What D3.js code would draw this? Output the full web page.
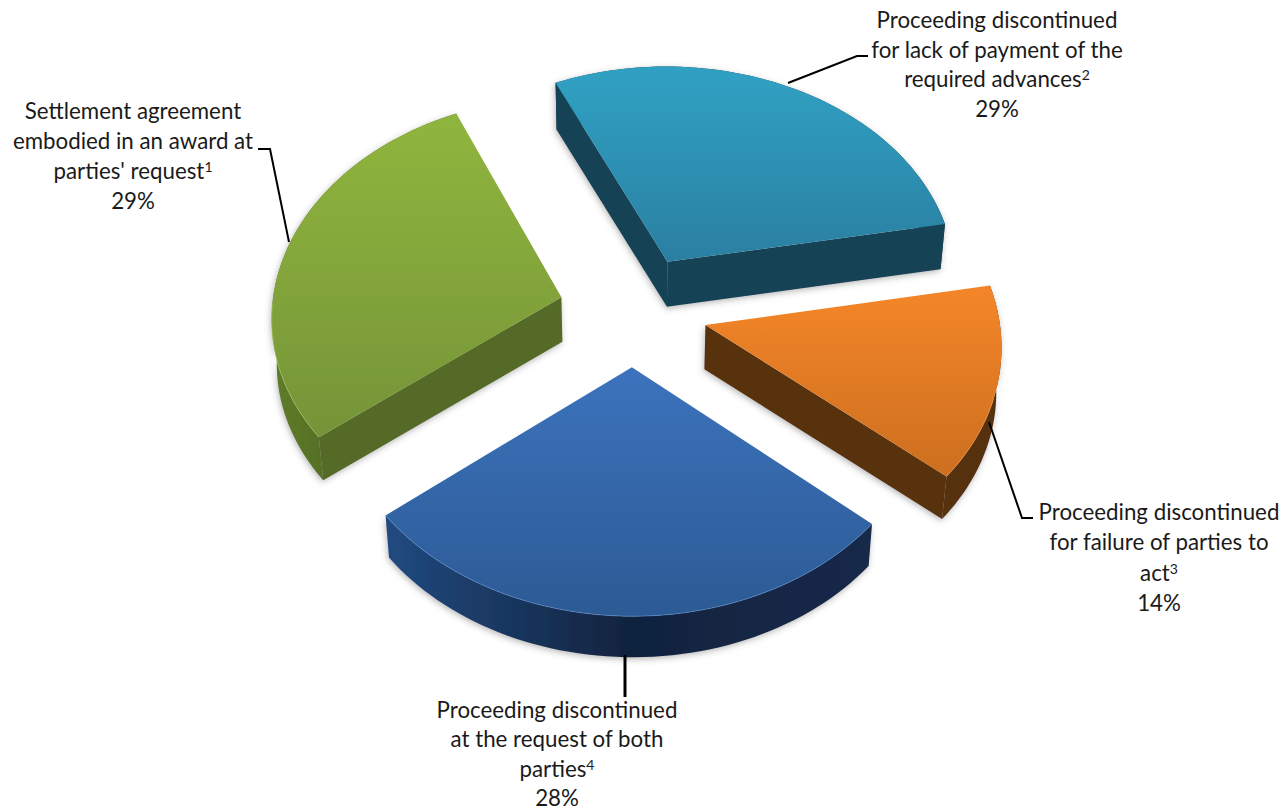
<!DOCTYPE html>
<html><head><meta charset="utf-8">
<style>html,body{margin:0;background:#fff}svg{display:block}text{font-family:Lato,"Noto Sans",sans-serif;font-size:22.3px;fill:#1a1a1a;text-anchor:middle}</style>
<script src="https://cdn.jsdelivr.net/npm/d3@7/dist/d3.min.js"></script></head>
<body><svg id="c" width="1287" height="812"></svg>
<script>
const categories=["Proceeding discontinued for lack of payment of the required advances","Proceeding discontinued for failure of parties to act","Proceeding discontinued at the request of both parties","Settlement agreement embodied in an award at parties' request"];
const shares=[29,14,28,29];
const shareLabels=["29%","14%","28%","29%"];
const notes=["2","3","4","1"];
const labelLines=[["Proceeding discontinued","for lack of payment of the","required advances"],["Proceeding discontinued","for failure of parties to","act"],["Proceeding discontinued","at the request of both","parties"],["Settlement agreement","embodied in an award at","parties' request"]];
const labelX=[997,1159,557,133];
const labelY=[28,520,718,119];
const lineGap=[29.6,30.3,29.3,30];
const leaders=[[[788,83],[857,56],[868,56]],[[989,422],[1022,518],[1033,518]],[[625,655],[625,697]],[[289,242],[270,149],[258,149]]];
const leaderWidth=[2,2,3,2];
const topLight=["#30a0c2","#f38528","#3b72bb","#8fb43d"];
const topDark=["#2a7fa1","#cc6f1f","#2c5a94","#759438"];
const wallCol=["#134356","#59300c","#162c4d","#546a28"];
const rimA=["#1a5368","#7a420f","#214a80","#5f7d2a"];
const rimB=["#15404f","#55300c","#11233e","#4d6522"];
const edgeCol=["#3fb0d0","#f59a4c","#5d8fd0","#a9c668"];

const [cx,cy,A,B,C,D,k,j]=[632.2,308.2,290.68,218.04,13.79,-10.12,.0875,-.0099];
const explode=.2555,start=-.4699;
const depth=47,shrink=.986;
const apexNudge=[1,2];

const svg=d3.select("#c");
const defs=svg.append("defs");
const f=defs.append("filter").attr("id","sh").attr("x","-10%").attr("y","-10%").attr("width","120%").attr("height","125%");
f.append("feDropShadow").attr("dx",-1).attr("dy",2).attr("stdDeviation",3).attr("flood-color","#555").attr("flood-opacity",.42);

const pie=d3.pie().sort(null).startAngle(start).endAngle(start+2*Math.PI);
const arcs=pie(shares);
const project=(u,v)=>{const w=1+k*v+j*u;return [cx+(A*u+C*v)/w,cy-(B*v+D*u)/w];};
const lower=p=>[630+shrink*(p[0]-630),p[1]+depth-(1-shrink)*(p[1]-81)*.8];
const line=d3.line();
const order=[0,3,1,2];
order.forEach(i=>{
 const a=arcs[i],m=(a.startAngle+a.endAngle)/2;
 const ox=explode*Math.sin(m),oy=explode*Math.cos(m);
 const ap0=project(ox,oy);
 const apex=[ap0[0]+apexNudge[0],ap0[1]+apexNudge[1]];
 const rim=d3.range(0,61).map(t=>{const an=a.startAngle+(a.endAngle-a.startAngle)*t/60;return project(ox+Math.sin(an),oy+Math.cos(an));});
 const poly=[apex].concat(rim);
 const g=svg.append("g").attr("filter","url(#sh)");
 const ys=rim.map(p=>p[1]).concat(apex[1]);
 const gt=defs.append("linearGradient").attr("id","t"+i).attr("gradientUnits","userSpaceOnUse").attr("x1",0).attr("x2",0).attr("y1",d3.min(ys)).attr("y2",d3.max(ys));
 gt.append("stop").attr("offset",.05).attr("stop-color",topLight[i]);
 gt.append("stop").attr("offset",1).attr("stop-color",topDark[i]);
 const xs=rim.map(p=>p[0]);
 const gr=defs.append("linearGradient").attr("id","r"+i).attr("gradientUnits","userSpaceOnUse").attr("x1",d3.min(xs)).attr("x2",d3.max(xs)).attr("y1",0).attr("y2",0);
 const left=i===2||i===3;
 gr.append("stop").attr("offset",0).attr("stop-color",left?rimA[i]:rimB[i]);
 gr.append("stop").attr("offset",.5).attr("stop-color",rimB[i]);
 gr.append("stop").attr("offset",1).attr("stop-color",i===2?"#14294a":rimB[i]);
 const wall=(p,q)=>line([p,q,lower(q),lower(p)])+"Z";
 const faces=q=>!d3.polygonContains(poly,[(apex[0]+q[0])/2,(apex[1]+q[1])/2+4]);
 g.append("path").attr("d",line(rim.concat(rim.map(lower).reverse()))+"Z").attr("fill",`url(#r${i})`);
 [rim[0],rim[60]].filter(faces).forEach(q=>g.append("path").attr("d",wall(apex,q)).attr("fill",wallCol[i]));
 svg.append("path").attr("d",line(poly)+"Z").attr("fill",`url(#t${i})`);
 if(i===2||i===3||i===1){svg.append("path").attr("d",line(i===3?rim.slice(0,22):rim.slice(i===1?35:0))).attr("fill","none").attr("stroke",edgeCol[i]).attr("stroke-width",1).attr("opacity",.6);}
});
const leaderLine=d3.line();
leaders.forEach((l,i)=>svg.append("path").attr("d",leaderLine(l)).attr("fill","none").attr("stroke","#000").attr("stroke-width",leaderWidth[i]));
labelLines.forEach((ls,i)=>{
 const t=svg.append("text").attr("aria-label",categories[i]);
 ls.forEach((s,n)=>{
  t.append("tspan").attr("x",labelX[i]).attr("y",labelY[i]+n*lineGap[i]).text(s);
  if(n===ls.length-1)t.append("tspan").attr("dy",-7).style("font-size","14px").text(notes[i]);
 });
 t.append("tspan").attr("x",labelX[i]).attr("y",labelY[i]+ls.length*lineGap[i]).text(shareLabels[i]);
});
</script></body></html>
